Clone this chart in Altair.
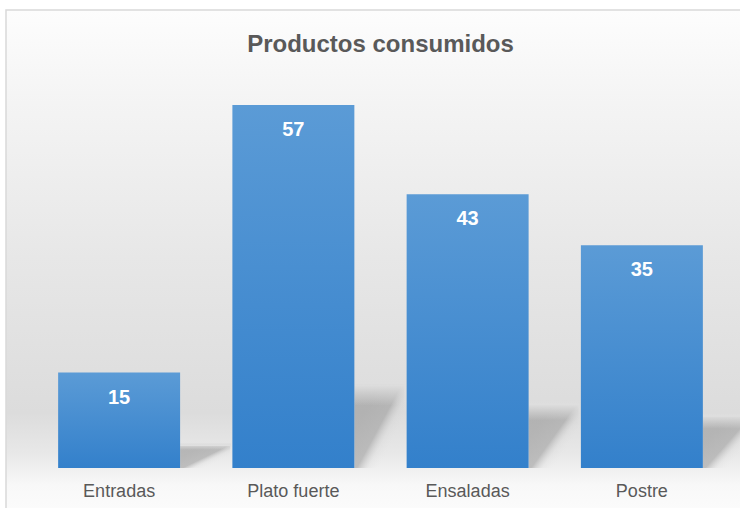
import altair as alt
import pandas as pd

categories = ["Entradas", "Plato fuerte", "Ensaladas", "Postre"]
values = [15, 57, 43, 35]
title_text = "Productos consumidos"

df = pd.DataFrame({"categoria": categories, "valor": values})

FONT = "Liberation Sans"
TEXT_COLOR = "#595959"

x_enc = alt.X(
    "categoria:N",
    sort=categories,
    scale=alt.Scale(paddingInner=0.3, paddingOuter=0.15),
    axis=alt.Axis(
        title=None, labelAngle=0, domain=False, ticks=False, grid=False,
        labelFont=FONT, labelFontSize=18, labelColor=TEXT_COLOR, labelPadding=14,
        zindex=2,
    ),
)
y_scale = alt.Scale(domain=[0, 60], nice=False, zero=True)

bg_gradient = alt.Gradient(
    gradient="linear",
    x1=0, x2=0, y1=0, y2=1,
    stops=[
        alt.GradientStop(offset=0.0, color="#fdfdfd"),
        alt.GradientStop(offset=0.18, color="#f4f4f4"),
        alt.GradientStop(offset=0.48, color="#e7e7e7"),
        alt.GradientStop(offset=0.78, color="#dcdcdc"),
        alt.GradientStop(offset=0.86, color="#e8e8e8"),
        alt.GradientStop(offset=0.92, color="#f8f8f8"),
        alt.GradientStop(offset=1.0, color="#fdfdfd"),
    ],
)

background = alt.Chart(alt.Data(values=[{"k": 1}])).mark_rect(
    fill=bg_gradient, stroke="#d9d9d9", strokeWidth=1.5
).encode(
    x=alt.value(-26), x2=alt.value(760),
    y=alt.value(-76), y2=alt.value(440),
)

title = alt.Chart(alt.Data(values=[{"t": title_text}])).mark_text(
    font=FONT, fontSize=24, fontWeight="bold", color=TEXT_COLOR,
    baseline="middle", align="center",
).encode(
    x=alt.value(348.5), y=alt.value(-41), text="t:N",
)

shadow_gradient = alt.Gradient(
    gradient="linear",
    x1=0, y1=0.55, x2=0.5, y2=1,
    stops=[
        alt.GradientStop(offset=0.0, color="rgba(150,150,150,0.6)"),
        alt.GradientStop(offset=0.5, color="rgba(150,150,150,0.55)"),
        alt.GradientStop(offset=0.75, color="rgba(200,200,200,0.15)"),
        alt.GradientStop(offset=1.0, color="rgba(230,230,230,0.0)"),
    ],
)

shadows = alt.Chart(df).transform_calculate(
    sombra="datum.valor * 0.23"
).mark_bar(
    fill=shadow_gradient, width=50, xOffset=86
).encode(
    x=x_enc,
    y=alt.Y("sombra:Q", scale=y_scale, axis=None),
)

# soft upper edge of the shadows
shadow_fade = alt.Gradient(
    gradient="linear",
    x1=0, x2=0, y1=0, y2=1,
    stops=[
        alt.GradientStop(offset=0.0, color="rgba(222,222,222,0.0)"),
        alt.GradientStop(offset=0.04, color="rgba(222,222,222,1)"),
        alt.GradientStop(offset=0.28, color="rgba(222,222,222,0.0)"),
        alt.GradientStop(offset=1.0, color="rgba(222,222,222,0.0)"),
    ],
)

fades = alt.Chart(df).transform_calculate(
    sombra_borde="datum.valor * 0.23 + 0.5"
).mark_bar(
    fill=shadow_fade, width=52, xOffset=86
).encode(
    x=x_enc,
    y=alt.Y("sombra_borde:Q", scale=y_scale, axis=None),
)

bar_gradient = alt.Gradient(
    gradient="linear",
    x1=0, x2=0, y1=0, y2=1,
    stops=[
        alt.GradientStop(offset=0.0, color="#5b9bd6"),
        alt.GradientStop(offset=1.0, color="#3380cb"),
    ],
)

bars = alt.Chart(df).mark_bar(fill=bar_gradient).encode(
    x=x_enc,
    y=alt.Y("valor:Q", scale=y_scale, axis=None),
)

labels = alt.Chart(df).mark_text(
    font=FONT, fontSize=20, fontWeight="bold", color="white",
    baseline="middle", dy=25,
).encode(
    x=x_enc,
    y=alt.Y("valor:Q", scale=y_scale, axis=None),
    text=alt.Text("valor:Q"),
)

chart = alt.layer(background, title, shadows, fades, bars, labels).properties(
    width=697,
    height=382,
    autosize=alt.AutoSizeParams(type="none"),
    padding={"left": 32, "top": 86, "right": 11, "bottom": 40},
).configure_view(stroke=None).configure(background="white")

chart.save("out.html", embed_options={"renderer": "svg", "actions": False})
